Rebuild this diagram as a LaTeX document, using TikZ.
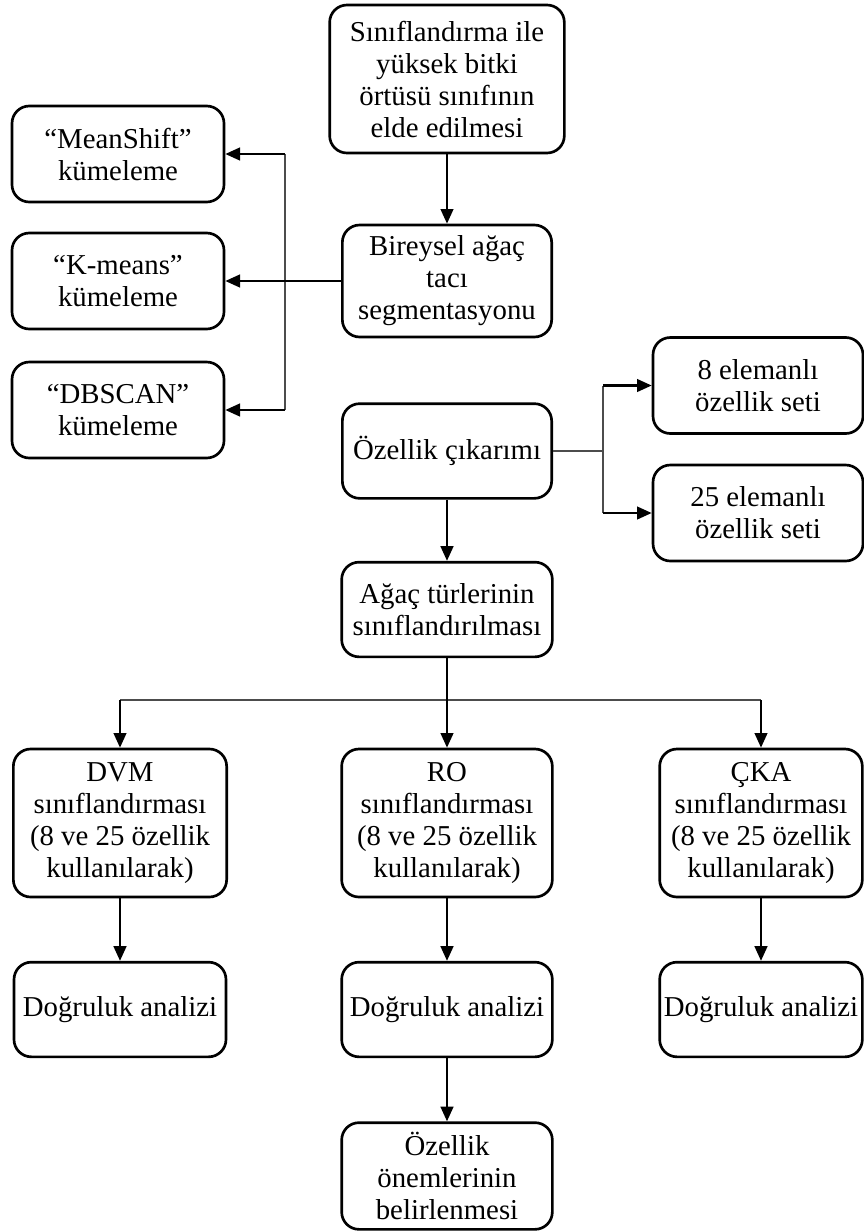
\documentclass[tikz,border=0pt]{standalone}
\usepackage{fontspec}
\setmainfont{Liberation Serif}
\usetikzlibrary{arrows.meta,positioning}

\begin{document}
\begin{tikzpicture}[x=0.75pt, y=-0.75pt, line join=bevel,
  box/.style={draw, line width=2pt, rounded corners=13pt, align=center, inner sep=0pt, font=\fontsize{21.6}{24}\selectfont},
  thinline/.style={line width=0.8pt, draw=black!70},
  arr/.style={line width=1.7pt, -{Triangle[length=11pt, width=9.5pt]}}]
\useasboundingbox (0,0) rectangle (864,1232);
% Main column
\node[box, minimum width=176pt, minimum height=111pt] (sinif) at (447,79) {Sınıflandırma ile\\yüksek bitki\\örtüsü sınıfının\\elde edilmesi};
\node[box, minimum width=157pt, minimum height=84pt] (bireysel) at (447,281) {Bireysel ağaç\\tacı\\segmentasyonu};
\node[box, minimum width=157pt, minimum height=71pt] (ozellik) at (447,451) {Özellik çıkarımı};
\node[box, minimum width=158pt, minimum height=71pt] (agac) at (447,609.5) {Ağaç türlerinin\\sınıflandırılması};
% Clustering
\node[box, minimum width=159pt, minimum height=72pt] (meanshift) at (118,154) {“MeanShift”\\kümeleme};
\node[box, minimum width=159pt, minimum height=72pt] (kmeans) at (118,281) {“K-means”\\kümeleme};
\node[box, minimum width=159pt, minimum height=72pt] (dbscan) at (118,410) {“DBSCAN”\\kümeleme};
% Feature sets
\node[box, minimum width=157.5pt, minimum height=72pt] (set8) at (758,385.5) {8 elemanlı\\özellik seti};
\node[box, minimum width=157.5pt, minimum height=72pt] (set25) at (758,513) {25 elemanlı\\özellik seti};
% Classifiers
\node[box, minimum width=160pt, minimum height=111pt] (dvm) at (120,823) {DVM\\sınıflandırması\\ (8 ve 25 özellik\\kullanılarak)};
\node[box, minimum width=158pt, minimum height=111pt] (ro) at (447,823) {RO\\sınıflandırması\\ (8 ve 25 özellik\\kullanılarak)};
\node[box, minimum width=152pt, minimum height=111pt] (cka) at (761,823) {ÇKA\\sınıflandırması\\ (8 ve 25 özellik\\kullanılarak)};
% Accuracy
\node[box, minimum width=159pt, minimum height=71pt] (dog1) at (120,1009.5) {Doğruluk analizi};
\node[box, minimum width=158pt, minimum height=71pt] (dog2) at (447,1009.5) {Doğruluk analizi};
\node[box, minimum width=152pt, minimum height=71pt] (dog3) at (761,1009.5) {Doğruluk analizi};
\node[box, minimum width=158pt, minimum height=80pt] (onem) at (447,1176) {Özellik\\önemlerinin\\belirlenmesi};
% Connectors
\coordinate (lbus) at (285,281);
\coordinate (rbus) at (603,451);
\coordinate (bbus) at (447,700);
\draw[arr] (sinif) -- (bireysel);
\draw[thinline] (lbus |- meanshift) -- (lbus |- dbscan);
\draw[arr] (bireysel) -- (kmeans);
\draw[arr] (lbus |- meanshift) -- (meanshift);
\draw[arr] (lbus |- dbscan) -- (dbscan);
\draw[arr] (ozellik) -- (agac);
\draw[thinline] (ozellik) -- (rbus);
\draw[thinline] (rbus |- set8) -- (rbus |- set25);
\draw[arr] (rbus |- set8) -- (set8);
\draw[arr] (rbus |- set25) -- (set25);
\draw[thinline] (dvm |- bbus) -- (cka |- bbus);
\draw[arr] (agac) -- (ro);
\draw[arr] (dvm |- bbus) -- (dvm);
\draw[arr] (cka |- bbus) -- (cka);
\draw[arr] (dvm) -- (dog1);
\draw[arr] (ro) -- (dog2);
\draw[arr] (cka) -- (dog3);
\draw[arr] (dog2) -- (onem);
\end{tikzpicture}
\end{document}
